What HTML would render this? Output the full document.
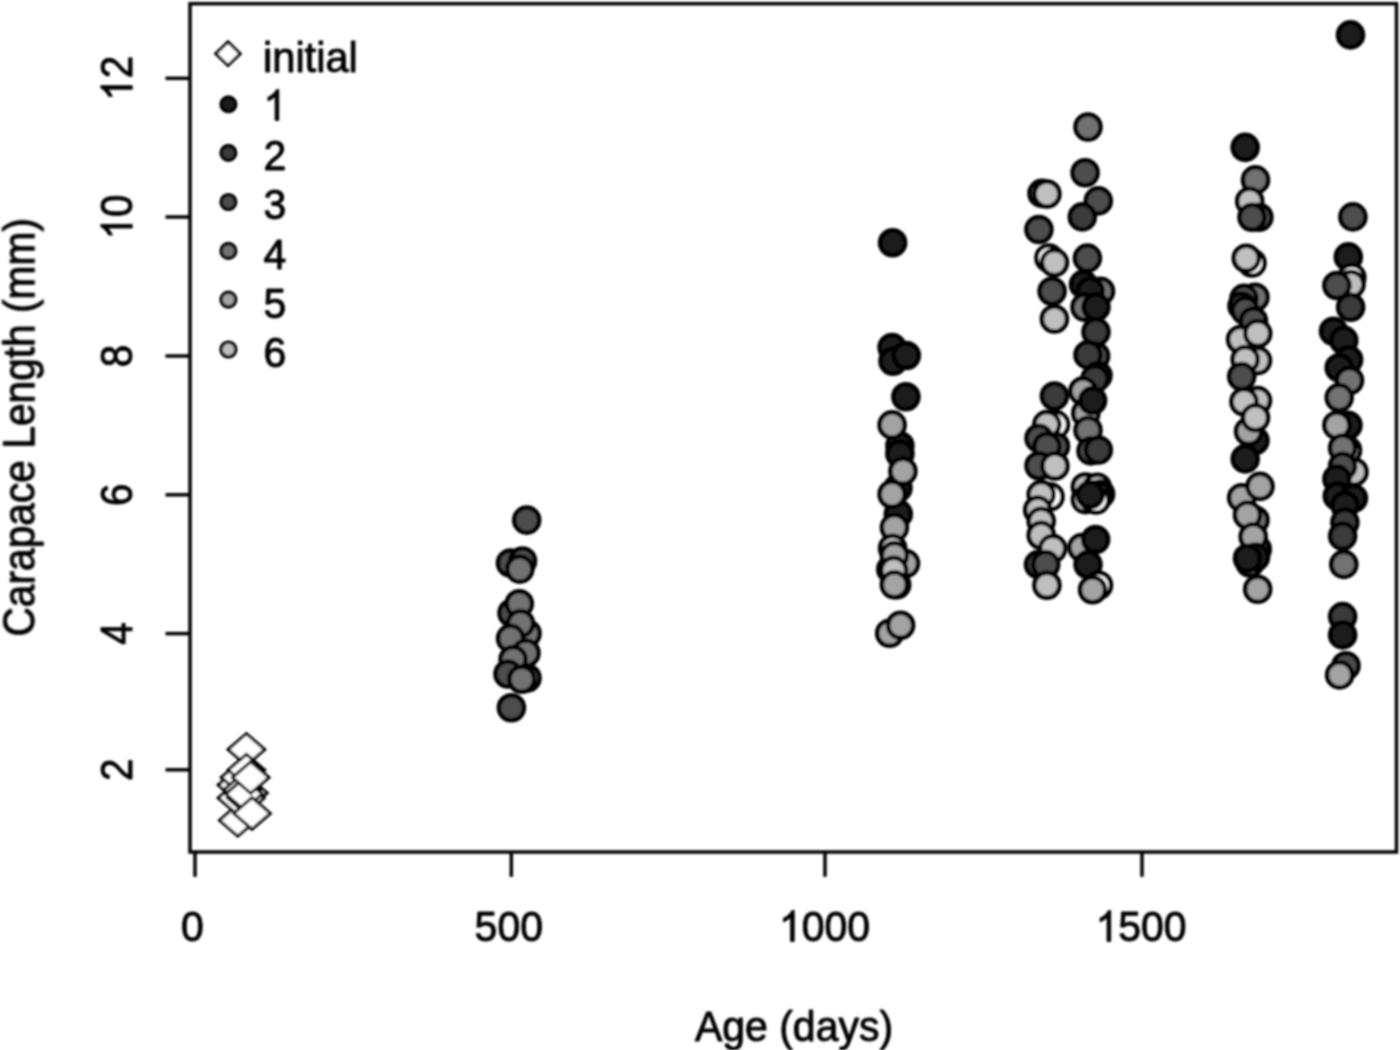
<!DOCTYPE html>
<html><head><meta charset="utf-8"><title>Carapace Length vs Age</title>
<style>
html,body{margin:0;padding:0;background:#fff;}
body{width:1400px;height:1050px;overflow:hidden;}
svg{display:block;}
text{font-family:"Liberation Sans",sans-serif;font-size:41px;fill:#000;}
</style></head><body>
<svg width="1400" height="1050" viewBox="0 0 1400 1050">
<defs><filter id="b" x="-5%" y="-5%" width="110%" height="110%"><feGaussianBlur stdDeviation="0.85"/></filter></defs>
<rect width="1400" height="1050" fill="#fff"/>
<g filter="url(#b)">
<g fill="none" stroke="#000" stroke-width="3.5">
<rect x="190" y="3.7" width="1206.5" height="848.3"/>
<line x1="165.5" y1="769.8" x2="190" y2="769.8"/>
<line x1="165.5" y1="633.6" x2="190" y2="633.6"/>
<line x1="165.5" y1="494.8" x2="190" y2="494.8"/>
<line x1="165.5" y1="356.0" x2="190" y2="356.0"/>
<line x1="165.5" y1="217.0" x2="190" y2="217.0"/>
<line x1="165.5" y1="78.3" x2="190" y2="78.3"/>
<line x1="195" y1="852" x2="195" y2="876.8"/>
<line x1="511.3" y1="852" x2="511.3" y2="876.8"/>
<line x1="825" y1="852" x2="825" y2="876.8"/>
<line x1="1142" y1="852" x2="1142" y2="876.8"/>
</g>
<g fill="#000" stroke="#000" stroke-width="0.9" stroke-linejoin="round">
<g transform="translate(132.2,769.8) rotate(-90) scale(0.985,1.065) translate(-11.40,0)"><text x="0.00" y="0">2</text></g>
<g transform="translate(132.2,633.6) rotate(-90) scale(0.985,1.065) translate(-11.40,0)"><text x="0.00" y="0">4</text></g>
<g transform="translate(132.2,494.8) rotate(-90) scale(0.985,1.065) translate(-11.40,0)"><text x="0.00" y="0">6</text></g>
<g transform="translate(132.2,356.0) rotate(-90) scale(0.985,1.065) translate(-11.40,0)"><text x="0.00" y="0">8</text></g>
<g transform="translate(132.2,217.0) rotate(-90) scale(0.985,1.065) translate(-22.80,0)"><path transform="translate(0.00,0) scale(0.02002,-0.02002)" d="M763 0H583V1147Q518 1085 412.5 1023T223 930V1104Q374 1175 487 1276T647 1472H763Z" stroke-width="45.0"/><text x="22.80" y="0">0</text></g>
<g transform="translate(132.2,78.3) rotate(-90) scale(0.985,1.065) translate(-22.80,0)"><path transform="translate(0.00,0) scale(0.02002,-0.02002)" d="M763 0H583V1147Q518 1085 412.5 1023T223 930V1104Q374 1175 487 1276T647 1472H763Z" stroke-width="45.0"/><text x="22.80" y="0">2</text></g>
<g transform="translate(192.5,941.4) scale(1,1.045) translate(-11.40,0)"><text x="0.00" y="0">0</text></g>
<g transform="translate(508.8,941.4) scale(1,1.045) translate(-34.19,0)"><text x="0.00" y="0">5</text><text x="22.80" y="0">0</text><text x="45.59" y="0">0</text></g>
<g transform="translate(824.5,941.4) scale(1,1.045) translate(-45.59,0)"><path transform="translate(0.00,0) scale(0.02002,-0.02002)" d="M763 0H583V1147Q518 1085 412.5 1023T223 930V1104Q374 1175 487 1276T647 1472H763Z" stroke-width="45.0"/><text x="22.80" y="0">0</text><text x="45.59" y="0">0</text><text x="68.39" y="0">0</text></g>
<g transform="translate(1141,941.4) scale(1,1.045) translate(-45.59,0)"><path transform="translate(0.00,0) scale(0.02002,-0.02002)" d="M763 0H583V1147Q518 1085 412.5 1023T223 930V1104Q374 1175 487 1276T647 1472H763Z" stroke-width="45.0"/><text x="22.80" y="0">5</text><text x="45.59" y="0">0</text><text x="68.39" y="0">0</text></g>
<text transform="translate(34.8,427.3) rotate(-90) scale(0.993,1.065)" text-anchor="middle">Carapace Length (mm)</text>
<text transform="translate(794,1041) scale(1,1.045)" text-anchor="middle">Age (days)</text>
<text transform="translate(263,71.8) scale(1.015,1.045)">initial</text>
<g transform="translate(263.5,120.4) scale(1,1.045)"><path transform="translate(0.00,0) scale(0.02002,-0.02002)" d="M763 0H583V1147Q518 1085 412.5 1023T223 930V1104Q374 1175 487 1276T647 1472H763Z" stroke-width="45.0"/></g>
<g transform="translate(263.5,169.8) scale(1,1.045)"><text x="0.00" y="0">2</text></g>
<g transform="translate(263.5,219.2) scale(1,1.045)"><text x="0.00" y="0">3</text></g>
<g transform="translate(263.5,268.6) scale(1,1.045)"><text x="0.00" y="0">4</text></g>
<g transform="translate(263.5,318) scale(1,1.045)"><text x="0.00" y="0">5</text></g>
<g transform="translate(263.5,367.4) scale(1,1.045)"><text x="0.00" y="0">6</text></g>
</g>
<g stroke="#000" stroke-width="3.0" fill="#fff"><polygon points="215.8,53.7 228,41.900000000000006 240.2,53.7 228,65.5"/></g>
<g stroke="#000" stroke-width="3.4">
<circle cx="228.4" cy="104.3" r="7.35" fill="#1a1a1a"/>
<circle cx="228.4" cy="152.9" r="7.35" fill="#3a3a3a"/>
<circle cx="228.4" cy="202" r="7.35" fill="#4e4e4e"/>
<circle cx="228.4" cy="250.9" r="7.35" fill="#727272"/>
<circle cx="228.4" cy="299.6" r="7.35" fill="#a3a3a3"/>
<circle cx="228.4" cy="349.5" r="7.35" fill="#bfbfbf"/>
</g>
<g stroke="#000" stroke-width="3.0" fill="#fff" stroke-linejoin="miter">
<polygon points="228.1,749.5 246.4,733.7 264.7,749.5 246.4,765.3"/>
<polygon points="219.5,820.3 237.8,804.5 256.1,820.3 237.8,836.0999999999999"/>
<polygon points="218.2,785 236.5,769.2 254.8,785 236.5,800.8"/>
<polygon points="218.2,798 236.5,782.2 254.8,798 236.5,813.8"/>
<polygon points="221.29999999999998,777.5 239.6,761.7 257.9,777.5 239.6,793.3"/>
<polygon points="230.6,793 248.9,777.2 267.2,793 248.9,808.8"/>
<polygon points="227.5,798 245.8,782.2 264.1,798 245.8,813.8"/>
<polygon points="223.7,790 242,774.2 260.3,790 242,805.8"/>
<polygon points="225.7,794 244,778.2 262.3,794 244,809.8"/>
<polygon points="228.1,770.1 246.4,754.3000000000001 264.7,770.1 246.4,785.9"/>
<polygon points="232.39999999999998,777.5 250.7,761.7 269.0,777.5 250.7,793.3"/>
<polygon points="233.7,813.4 252,797.6 270.3,813.4 252,829.1999999999999"/>
</g>
<g stroke="#050505" stroke-width="4.5">
<circle cx="526.7" cy="520.1" r="12.55" fill="#4e4e4e"/>
<circle cx="510.5" cy="563" r="12.55" fill="#4e4e4e"/>
<circle cx="522.5" cy="561" r="12.55" fill="#4e4e4e"/>
<circle cx="519.8" cy="569.1" r="12.55" fill="#727272"/>
<circle cx="512" cy="613" r="12.55" fill="#4e4e4e"/>
<circle cx="519.3" cy="603.8" r="12.55" fill="#727272"/>
<circle cx="527" cy="633.5" r="12.55" fill="#727272"/>
<circle cx="520.5" cy="623.6" r="12.55" fill="#727272"/>
<circle cx="510.6" cy="638.4" r="12.55" fill="#727272"/>
<circle cx="526" cy="653" r="12.55" fill="#727272"/>
<circle cx="513.1" cy="659.5" r="12.55" fill="#727272"/>
<circle cx="508" cy="674" r="12.55" fill="#4e4e4e"/>
<circle cx="527" cy="678" r="12.55" fill="#727272"/>
<circle cx="521.8" cy="679.3" r="12.55" fill="#727272"/>
<circle cx="511.4" cy="707.7" r="12.55" fill="#4e4e4e"/>
<circle cx="892.6" cy="242.8" r="12.55" fill="#1a1a1a"/>
<circle cx="892.1" cy="347.5" r="12.55" fill="#1a1a1a"/>
<circle cx="893" cy="361.2" r="12.55" fill="#1a1a1a"/>
<circle cx="906.3" cy="355.5" r="12.55" fill="#1a1a1a"/>
<circle cx="905.9" cy="396.7" r="12.55" fill="#1a1a1a"/>
<circle cx="899.9" cy="445.7" r="12.55" fill="#1a1a1a"/>
<circle cx="899.9" cy="453.7" r="12.55" fill="#1a1a1a"/>
<circle cx="892.1" cy="424.9" r="12.55" fill="#a3a3a3"/>
<circle cx="898" cy="488" r="12.55" fill="#1a1a1a"/>
<circle cx="902.9" cy="471.3" r="12.55" fill="#a3a3a3"/>
<circle cx="898.3" cy="513.9" r="12.55" fill="#1a1a1a"/>
<circle cx="892.1" cy="494.2" r="12.55" fill="#a3a3a3"/>
<circle cx="894.4" cy="527.6" r="12.55" fill="#a3a3a3"/>
<circle cx="890.8" cy="569.2" r="12.55" fill="#1a1a1a"/>
<circle cx="896.7" cy="584.8" r="12.55" fill="#1a1a1a"/>
<circle cx="892.6" cy="548.3" r="12.55" fill="#bfbfbf"/>
<circle cx="905.5" cy="563.5" r="12.55" fill="#a3a3a3"/>
<circle cx="894.4" cy="555.5" r="12.55" fill="#a3a3a3"/>
<circle cx="893.7" cy="570.4" r="12.55" fill="#bfbfbf"/>
<circle cx="894.4" cy="584.8" r="12.55" fill="#a3a3a3"/>
<circle cx="889.7" cy="633.3" r="12.55" fill="#a3a3a3"/>
<circle cx="900.6" cy="625.2" r="12.55" fill="#a3a3a3"/>
<circle cx="1042" cy="193.4" r="12.55" fill="#bfbfbf"/>
<circle cx="1046.9" cy="194" r="12.55" fill="#bfbfbf"/>
<circle cx="1038.9" cy="229.5" r="12.55" fill="#4e4e4e"/>
<circle cx="1049" cy="258" r="12.55" fill="#ffffff"/>
<circle cx="1054.4" cy="262.6" r="12.55" fill="#bfbfbf"/>
<circle cx="1052.1" cy="291.2" r="12.55" fill="#4e4e4e"/>
<circle cx="1054.4" cy="319" r="12.55" fill="#bfbfbf"/>
<circle cx="1054.4" cy="396" r="12.55" fill="#3a3a3a"/>
<circle cx="1055.5" cy="424.6" r="12.55" fill="#ffffff"/>
<circle cx="1046.9" cy="424.6" r="12.55" fill="#bfbfbf"/>
<circle cx="1039" cy="438.3" r="12.55" fill="#4e4e4e"/>
<circle cx="1055.5" cy="446.3" r="12.55" fill="#4e4e4e"/>
<circle cx="1046.9" cy="446.3" r="12.55" fill="#4e4e4e"/>
<circle cx="1039" cy="465.8" r="12.55" fill="#4e4e4e"/>
<circle cx="1054.9" cy="466" r="12.55" fill="#bfbfbf"/>
<circle cx="1050" cy="496.7" r="12.55" fill="#ffffff"/>
<circle cx="1041.2" cy="494.6" r="12.55" fill="#bfbfbf"/>
<circle cx="1037.7" cy="510" r="12.55" fill="#bfbfbf"/>
<circle cx="1041.2" cy="521.2" r="12.55" fill="#bfbfbf"/>
<circle cx="1041.2" cy="535.2" r="12.55" fill="#bfbfbf"/>
<circle cx="1052.7" cy="548.6" r="12.55" fill="#bfbfbf"/>
<circle cx="1038.5" cy="564.6" r="12.55" fill="#3a3a3a"/>
<circle cx="1045.7" cy="564.6" r="12.55" fill="#4e4e4e"/>
<circle cx="1046.9" cy="585.2" r="12.55" fill="#bfbfbf"/>
<circle cx="1088" cy="127" r="12.55" fill="#727272"/>
<circle cx="1085.1" cy="172.8" r="12.55" fill="#4e4e4e"/>
<circle cx="1098.3" cy="200.9" r="12.55" fill="#4e4e4e"/>
<circle cx="1082.3" cy="216.9" r="12.55" fill="#3a3a3a"/>
<circle cx="1087.4" cy="258.1" r="12.55" fill="#4e4e4e"/>
<circle cx="1083.5" cy="284.4" r="12.55" fill="#1a1a1a"/>
<circle cx="1100.5" cy="291.2" r="12.55" fill="#727272"/>
<circle cx="1090.3" cy="291.2" r="12.55" fill="#1a1a1a"/>
<circle cx="1085" cy="307.2" r="12.55" fill="#727272"/>
<circle cx="1096" cy="307" r="12.55" fill="#1a1a1a"/>
<circle cx="1096" cy="332" r="12.55" fill="#3a3a3a"/>
<circle cx="1095.6" cy="356" r="12.55" fill="#4e4e4e"/>
<circle cx="1088" cy="354.9" r="12.55" fill="#3a3a3a"/>
<circle cx="1098" cy="375.5" r="12.55" fill="#727272"/>
<circle cx="1094.9" cy="378.9" r="12.55" fill="#3a3a3a"/>
<circle cx="1083" cy="391" r="12.55" fill="#a3a3a3"/>
<circle cx="1085.8" cy="413.2" r="12.55" fill="#a3a3a3"/>
<circle cx="1092.6" cy="400.6" r="12.55" fill="#1a1a1a"/>
<circle cx="1088" cy="430.3" r="12.55" fill="#727272"/>
<circle cx="1091" cy="450.9" r="12.55" fill="#4e4e4e"/>
<circle cx="1098.3" cy="450" r="12.55" fill="#3a3a3a"/>
<circle cx="1085.4" cy="487" r="12.55" fill="#bfbfbf"/>
<circle cx="1085.4" cy="499.6" r="12.55" fill="#bfbfbf"/>
<circle cx="1097.3" cy="487.3" r="12.55" fill="#bfbfbf"/>
<circle cx="1100.6" cy="494" r="12.55" fill="#ffffff"/>
<circle cx="1097.3" cy="495" r="12.55" fill="#ffffff"/>
<circle cx="1094" cy="499" r="12.55" fill="#bfbfbf"/>
<circle cx="1096" cy="500" r="12.55" fill="#ffffff"/>
<circle cx="1090.3" cy="494.7" r="12.55" fill="#1a1a1a"/>
<circle cx="1082" cy="547.5" r="12.55" fill="#a3a3a3"/>
<circle cx="1095.6" cy="539.5" r="12.55" fill="#1a1a1a"/>
<circle cx="1088" cy="564.6" r="12.55" fill="#1a1a1a"/>
<circle cx="1098.5" cy="585.2" r="12.55" fill="#ffffff"/>
<circle cx="1092.6" cy="589.8" r="12.55" fill="#a3a3a3"/>
<circle cx="1245.2" cy="147.4" r="12.55" fill="#1a1a1a"/>
<circle cx="1255.5" cy="179.9" r="12.55" fill="#727272"/>
<circle cx="1249.7" cy="201.2" r="12.55" fill="#bfbfbf"/>
<circle cx="1258.9" cy="217.2" r="12.55" fill="#4e4e4e"/>
<circle cx="1252" cy="217.2" r="12.55" fill="#4e4e4e"/>
<circle cx="1252" cy="263" r="12.55" fill="#ffffff"/>
<circle cx="1246.3" cy="258.3" r="12.55" fill="#bfbfbf"/>
<circle cx="1255" cy="297.2" r="12.55" fill="#727272"/>
<circle cx="1244" cy="298.4" r="12.55" fill="#4e4e4e"/>
<circle cx="1242" cy="306" r="12.55" fill="#4e4e4e"/>
<circle cx="1245.2" cy="310.6" r="12.55" fill="#4e4e4e"/>
<circle cx="1253.5" cy="321" r="12.55" fill="#4e4e4e"/>
<circle cx="1240.6" cy="339.5" r="12.55" fill="#bfbfbf"/>
<circle cx="1257.7" cy="333.5" r="12.55" fill="#bfbfbf"/>
<circle cx="1257.5" cy="360.6" r="12.55" fill="#bfbfbf"/>
<circle cx="1245.2" cy="359.5" r="12.55" fill="#bfbfbf"/>
<circle cx="1241.7" cy="376.6" r="12.55" fill="#4e4e4e"/>
<circle cx="1257.5" cy="400.6" r="12.55" fill="#bfbfbf"/>
<circle cx="1244" cy="401.8" r="12.55" fill="#bfbfbf"/>
<circle cx="1255" cy="440.6" r="12.55" fill="#1a1a1a"/>
<circle cx="1248.6" cy="431.5" r="12.55" fill="#a3a3a3"/>
<circle cx="1255.5" cy="417.8" r="12.55" fill="#bfbfbf"/>
<circle cx="1245.2" cy="458.9" r="12.55" fill="#1a1a1a"/>
<circle cx="1241.7" cy="497.8" r="12.55" fill="#a3a3a3"/>
<circle cx="1260" cy="486.4" r="12.55" fill="#a3a3a3"/>
<circle cx="1255" cy="520" r="12.55" fill="#727272"/>
<circle cx="1247.5" cy="515" r="12.55" fill="#a3a3a3"/>
<circle cx="1257.3" cy="549.2" r="12.55" fill="#3a3a3a"/>
<circle cx="1253.2" cy="536.7" r="12.55" fill="#a3a3a3"/>
<circle cx="1250" cy="563" r="12.55" fill="#727272"/>
<circle cx="1255.5" cy="557" r="12.55" fill="#1a1a1a"/>
<circle cx="1247.5" cy="558.3" r="12.55" fill="#1a1a1a"/>
<circle cx="1257.7" cy="589.2" r="12.55" fill="#a3a3a3"/>
<circle cx="1350.5" cy="34.9" r="12.55" fill="#1a1a1a"/>
<circle cx="1352.9" cy="216.9" r="12.55" fill="#4e4e4e"/>
<circle cx="1348.3" cy="256.9" r="12.55" fill="#1a1a1a"/>
<circle cx="1351.8" cy="277.5" r="12.55" fill="#ffffff"/>
<circle cx="1351" cy="284.3" r="12.55" fill="#bfbfbf"/>
<circle cx="1336.9" cy="285.5" r="12.55" fill="#4e4e4e"/>
<circle cx="1350.6" cy="307.2" r="12.55" fill="#3a3a3a"/>
<circle cx="1333.5" cy="331.2" r="12.55" fill="#1a1a1a"/>
<circle cx="1343.8" cy="340.4" r="12.55" fill="#1a1a1a"/>
<circle cx="1348.6" cy="359.8" r="12.55" fill="#1a1a1a"/>
<circle cx="1339.2" cy="367.8" r="12.55" fill="#1a1a1a"/>
<circle cx="1349.5" cy="380.5" r="12.55" fill="#727272"/>
<circle cx="1339.2" cy="397.6" r="12.55" fill="#727272"/>
<circle cx="1348" cy="425.2" r="12.55" fill="#1a1a1a"/>
<circle cx="1336.9" cy="425.2" r="12.55" fill="#a3a3a3"/>
<circle cx="1347.5" cy="450.3" r="12.55" fill="#bfbfbf"/>
<circle cx="1342.6" cy="448" r="12.55" fill="#727272"/>
<circle cx="1354" cy="472" r="12.55" fill="#bfbfbf"/>
<circle cx="1342.6" cy="466.3" r="12.55" fill="#4e4e4e"/>
<circle cx="1336.9" cy="478.9" r="12.55" fill="#1a1a1a"/>
<circle cx="1337.3" cy="496.1" r="12.55" fill="#1a1a1a"/>
<circle cx="1353.4" cy="498.3" r="12.55" fill="#1a1a1a"/>
<circle cx="1344.9" cy="505.2" r="12.55" fill="#1a1a1a"/>
<circle cx="1344.9" cy="522.4" r="12.55" fill="#3a3a3a"/>
<circle cx="1342.6" cy="536.1" r="12.55" fill="#3a3a3a"/>
<circle cx="1343.8" cy="564.4" r="12.55" fill="#727272"/>
<circle cx="1342.6" cy="616.6" r="12.55" fill="#3a3a3a"/>
<circle cx="1342.6" cy="634.9" r="12.55" fill="#1a1a1a"/>
<circle cx="1346" cy="665.8" r="12.55" fill="#4e4e4e"/>
<circle cx="1339.6" cy="674.9" r="12.55" fill="#a3a3a3"/>
</g>
</g></svg></body></html>
